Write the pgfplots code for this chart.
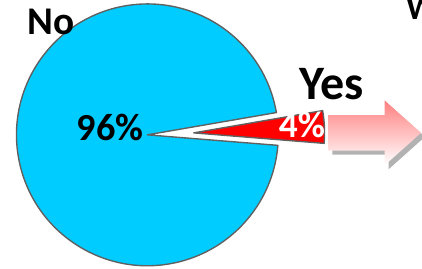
\documentclass[border=0pt]{standalone}
\usepackage{fontspec}
\setmainfont{Carlito}
\usepackage{pgfplots}
\pgfplotsset{compat=1.18}
\usepackage{pgfplotstable}
\usetikzlibrary{shadings}
\definecolor{pieCyan}{HTML}{00CCFF}
\definecolor{pieRed}{HTML}{FF0000}
\definecolor{pieEdge}{HTML}{606060}
\pgfplotstableread{
label value
No 96
Yes 4
}\piedata
\begin{document}
\pgfplotstablegetelem{0}{value}\of\piedata \let\vNo\pgfplotsretval
\pgfplotstablegetelem{1}{value}\of\piedata \let\vYes\pgfplotsretval
\pgfmathsetmacro{\aYesStart}{-4.6}
\pgfmathsetmacro{\aYesEnd}{\aYesStart+3.6*\vYes}
\pgfmathsetmacro{\aNoEnd}{\aYesEnd+3.6*\vNo}
\begin{tikzpicture}
\begin{axis}[
  x=1bp, y=1bp, scale only axis,
  xmin=0, xmax=422, ymin=0, ymax=273,
  y dir=reverse, hide axis, clip=false,
]
% No slice
\draw[fill=pieCyan, draw=pieEdge, line width=1.4bp, line join=round]
  (axis cs:143,137) -- ++(\aYesEnd:133bp)
  arc[start angle=\aYesEnd, end angle=\aNoEnd, radius=133bp] -- cycle;
% Yes slice (exploded)
\draw[fill=pieRed, draw=pieEdge, line width=1.4bp, line join=round]
  (axis cs:190,135) -- ++(\aYesStart:133bp)
  arc[start angle=\aYesStart, end angle=\aYesEnd, radius=133bp] -- cycle;
% arrow shadow
\fill[gray!60] (axis cs:331,121) -- (axis cs:388,121) -- (axis cs:388,106) -- (axis cs:425,139) -- (axis cs:388,172) -- (axis cs:388,157) -- (axis cs:331,157) -- cycle;
% arrow
\shade[left color=red!50!white, right color=white, shading angle=0]
  (axis cs:327,117) -- (axis cs:384,117) -- (axis cs:384,102) -- (axis cs:421,135) -- (axis cs:384,168) -- (axis cs:384,153) -- (axis cs:327,153) -- cycle;
% labels
\node[anchor=base, font=\bfseries\fontsize{40}{40}\selectfont, inner sep=0] at (axis cs:45,35) {No};
\node[anchor=base, font=\bfseries\fontsize{39}{39}\selectfont, inner sep=0] at (axis cs:105,143) {96\%};
\node[anchor=base, font=\bfseries\fontsize{38}{38}\selectfont, text=white, inner sep=0] at (axis cs:300,140) {4\%};
\node[anchor=base, font=\bfseries\fontsize{49}{49}\selectfont, inner sep=0] at (axis cs:330,101) {Yes};
\node[anchor=base west, font=\bfseries\fontsize{34}{34}\selectfont, inner sep=0] at (axis cs:406,20) {W};
\end{axis}
\pgfresetboundingbox
\path[use as bounding box] (current axis.south west) rectangle (current axis.north east);
\end{tikzpicture}
\end{document}
